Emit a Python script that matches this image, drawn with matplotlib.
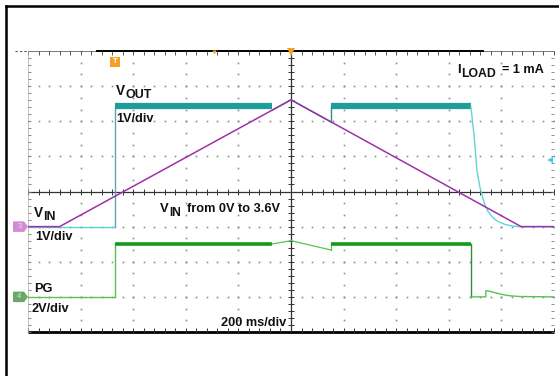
import matplotlib
matplotlib.use('Agg')
import matplotlib.pyplot as plt
import numpy as np
from matplotlib.lines import Line2D
from matplotlib.patches import Polygon

plt.rcParams['font.family'] = ['Liberation Sans', 'DejaVu Sans']

# ---------------- data (time in ms, voltages in V) ----------------
vin_t = [0, 120, 1000, 1875, 2000]
vin_v = [0.0, 0.0, 3.61, 0.0, 0.0]

vout_low_t = [0, 330]
vout_low_v = [0.0, 0.0]
vout_hi1_t = [330, 928]
vout_hi1_v = [3.42, 3.42]
vout_mid_t = [928, 1000, 1152]
vout_mid_v = [3.31, 3.61, 2.98]
vout_hi2_t = [1152, 1684]
vout_hi2_v = [3.42, 3.42]
vout_dec_t = [1684, 1696, 1707, 1719, 1730, 1738, 1750, 1765, 1780, 1795, 1815, 1833, 1850, 1871, 2000]
vout_dec_v = [3.42, 2.6, 1.6, 1.1, 0.8, 0.6, 0.42, 0.28, 0.18, 0.12, 0.06, 0.03, 0.01, 0.0, 0.0]

pg_low1_t = [0, 330]
pg_low1_v = [0.0, 0.0]
pg_hi1_t = [330, 928]
pg_hi1_v = [3.01, 3.01]
pg_mid_t = [928, 1000, 1152]
pg_mid_v = [3.01, 3.2, 2.67]
pg_hi2_t = [1152, 1684]
pg_hi2_v = [3.01, 3.01]
pg_tail_t = [1684, 1741, 1741, 1757, 1775, 1795, 1815, 1833, 1871, 2000]
pg_tail_v = [0.0, 0.0, 0.35, 0.32, 0.24, 0.17, 0.1, 0.06, 0.02, 0.0]

# channel settings (volts/div, ground level in divisions from bottom)
VIN_SCALE, VIN_GND = 1.0, 3.0
VOUT_SCALE, VOUT_GND = 1.0, 3.0
PG_SCALE, PG_GND = 2.0, 1.0

def vdiv(v, scale, gnd):
    return gnd + np.asarray(v) / scale

W, H = 559, 376
fig = plt.figure(figsize=(W / 100, H / 100), dpi=100)
fig.patch.set_facecolor('white')

# outer frame
fig.add_artist(Line2D([6 / W, 1], [1 - 6 / H] * 2, color='black', lw=1.8))
fig.add_artist(Line2D([6 / W] * 2, [0, 1 - 6 / H], color='black', lw=1.8))
fig.add_artist(Line2D([15 / W, 28 / W], [1 - 51 / H] * 2, color='#555555', lw=0.8, ls=(0, (2, 2))))

ax = fig.add_axes([28 / W, 44 / H, 526 / W, 281 / H])
ax.set_xlim(0, 2000)
ax.set_ylim(0, 8)
ax.axis('off')

grid_c = '#8c8c8c'
for k in range(1, 10):
    if k == 5:
        continue
    ys = np.arange(0, 8.001, 1 / 3)
    ax.plot([200 * k] * len(ys), ys, ls='none', marker='s', ms=1.2, color=grid_c, mew=0)
for j in range(1, 8):
    if j == 4:
        continue
    xs = np.arange(0, 2000.1, 40)
    ax.plot(xs, [j] * len(xs), ls='none', marker='s', ms=1.2, color=grid_c, mew=0)

# center cross with ticks
ax.plot([1000, 1000], [0, 8], color='#333333', lw=0.9)
ax.plot([0, 2000], [4, 4], color='#333333', lw=0.9)
xt = np.arange(0, 2000.1, 40)
yt = np.arange(0, 8.001, 0.2)
ax.plot(xt, [4] * len(xt), ls='none', marker='|', ms=4, mew=0.7, color='#333333')
ax.plot([1000] * len(yt), yt, ls='none', marker='_', ms=5, mew=0.7, color='#333333')

# edges
ax.plot([0, 2000], [0, 0], color='black', lw=2.0, clip_on=False, solid_capstyle='butt')
ax.plot(xt, [0] * len(xt), ls='none', marker=2, ms=3, mew=0.7, color='#333333', clip_on=False)
ax.plot([0, 2000], [8, 8], color='#777777', lw=0.7, clip_on=False)
ax.plot([262, 1730], [8, 8], color='black', lw=1.4, clip_on=False)
ax.plot(xt, [8] * len(xt), ls='none', marker=3, ms=3, mew=0.7, color='#555555', clip_on=False)
ax.plot([0, 0], [0, 8], color='#aaaaaa', lw=0.5, clip_on=False)
ax.plot([0] * len(yt), yt, ls='none', marker=1, ms=2.5, mew=0.6, color='#777777', clip_on=False)
ax.plot([2000] * len(yt), yt, ls='none', marker=0, ms=2.5, mew=0.6, color='#777777', clip_on=False)

# ---------------- traces ----------------
cyan_thin = '#5fd6d6'
teal = '#1e9e98'
green_thick = '#149a1a'
green_thin = '#55c455'
magenta = '#a030a8'

ax.plot(pg_low1_t, vdiv(pg_low1_v, PG_SCALE, PG_GND), color=green_thin, lw=1.0)
ax.plot([330, 330], vdiv([0, 3.01], PG_SCALE, PG_GND), color=green_thin, lw=1.0)
ax.plot(pg_hi1_t, vdiv(pg_hi1_v, PG_SCALE, PG_GND), color=green_thick, lw=2.6, solid_capstyle='butt')
ax.plot(pg_mid_t, vdiv(pg_mid_v, PG_SCALE, PG_GND), color=green_thin, lw=0.9)
ax.plot([1152, 1152], vdiv([2.67, 3.01], PG_SCALE, PG_GND), color=green_thin, lw=0.9)
ax.plot(pg_hi2_t, vdiv(pg_hi2_v, PG_SCALE, PG_GND), color=green_thick, lw=2.6, solid_capstyle='butt')
ax.plot([1684, 1684], vdiv([3.01, 0], PG_SCALE, PG_GND), color='#3a8a3a', lw=1.0)
ax.plot(pg_tail_t, vdiv(pg_tail_v, PG_SCALE, PG_GND), color=green_thin, lw=1.0)

ax.plot(vout_low_t, vdiv(vout_low_v, VOUT_SCALE, VOUT_GND), color=cyan_thin, lw=1.0)
ax.plot([330, 330], vdiv([0, 3.42], VOUT_SCALE, VOUT_GND), color='#5aa8b0', lw=1.0)
ax.plot(vout_hi1_t, vdiv(vout_hi1_v, VOUT_SCALE, VOUT_GND), color=teal, lw=4.5, solid_capstyle='butt')
ax.plot(vout_mid_t, vdiv(vout_mid_v, VOUT_SCALE, VOUT_GND), color=teal, lw=1.0)
ax.plot([1152, 1152], vdiv([2.98, 3.42], VOUT_SCALE, VOUT_GND), color='#3a8a90', lw=1.0)
ax.plot(vout_hi2_t, vdiv(vout_hi2_v, VOUT_SCALE, VOUT_GND), color=teal, lw=4.5, solid_capstyle='butt')
ax.plot(vout_dec_t, vdiv(vout_dec_v, VOUT_SCALE, VOUT_GND), color=cyan_thin, lw=1.0)

ax.plot(vin_t, vdiv(vin_v, VIN_SCALE, VIN_GND), color=magenta, lw=1.1)

# ---------------- markers ----------------
def chan_marker(y, face, label):
    x0, x1, xt_ = -57, -15, 0
    h = 0.15
    poly = Polygon([[x0, y - h], [x1, y - h], [xt_, y], [x1, y + h], [x0, y + h]],
                   closed=True, facecolor=face, edgecolor='none', clip_on=False)
    ax.add_patch(poly)
    ax.text(-33, y, label, color='white', fontsize=5.5, ha='center', va='center', clip_on=False, alpha=0.7)

chan_marker(VIN_GND, '#d58ad5', '3')
chan_marker(PG_GND, '#6aa86a', '4')

ax.plot([330], [7.69], marker='s', ms=7.5, color='#f5a020', mew=0, clip_on=False)
ax.text(330, 7.69, 'T', color='white', fontsize=5.5, fontweight='bold', ha='center', va='center')
ax.plot([1000], [7.97], marker='v', ms=6, color='#f5a020', mew=0, clip_on=False)
ax.plot([707], [7.98], marker='v', ms=3, color='#f5a020', mew=0, clip_on=False)
ax.plot([1985], [4.9], marker='<', ms=4.5, color='#40d0e0', mew=0, clip_on=False)

# ---------------- text ----------------
def ftxt(x, y, s, ha='left', fs=9.2):
    fig.text(x / W, 1 - y / H, s, ha=ha, va='center', fontsize=fs, fontweight='bold', color='#111111')

def subtxt(x, y, main, sub, rest='', fs_main=9.6, fs_sub=8.8, dx=9.4, dy=3.5, rest_dx=0):
    ftxt(x, y, main, fs=fs_main)
    ftxt(x + dx, y + dy, sub, fs=fs_sub)
    if rest:
        ftxt(x + dx + rest_dx, y, rest, fs=9.2)

subtxt(116, 91, 'V', 'OUT', fs_main=9.8, fs_sub=9.0, dx=9.0, dy=4)
ftxt(116, 119, '1V/div')
subtxt(457, 70, 'I', 'LOAD', rest='= 1 mA', fs_main=9.4, fs_sub=8.8, dx=3.8, dy=4, rest_dx=41.5)
subtxt(34, 213, 'V', 'IN', fs_main=9.8, fs_sub=8.8, dx=9.0, dy=4)
ftxt(35, 237, '1V/div')
subtxt(160, 209, 'V', 'IN', rest='from 0V to 3.6V', fs_main=9.4, fs_sub=8.6, dx=8.8, dy=3.5, rest_dx=18)
ftxt(34, 289, 'PG')
ftxt(32, 309, '2V/div')
ftxt(286, 323, '200 ms/div', ha='right')

fig.savefig('out.png', dpi=100, facecolor='white')
